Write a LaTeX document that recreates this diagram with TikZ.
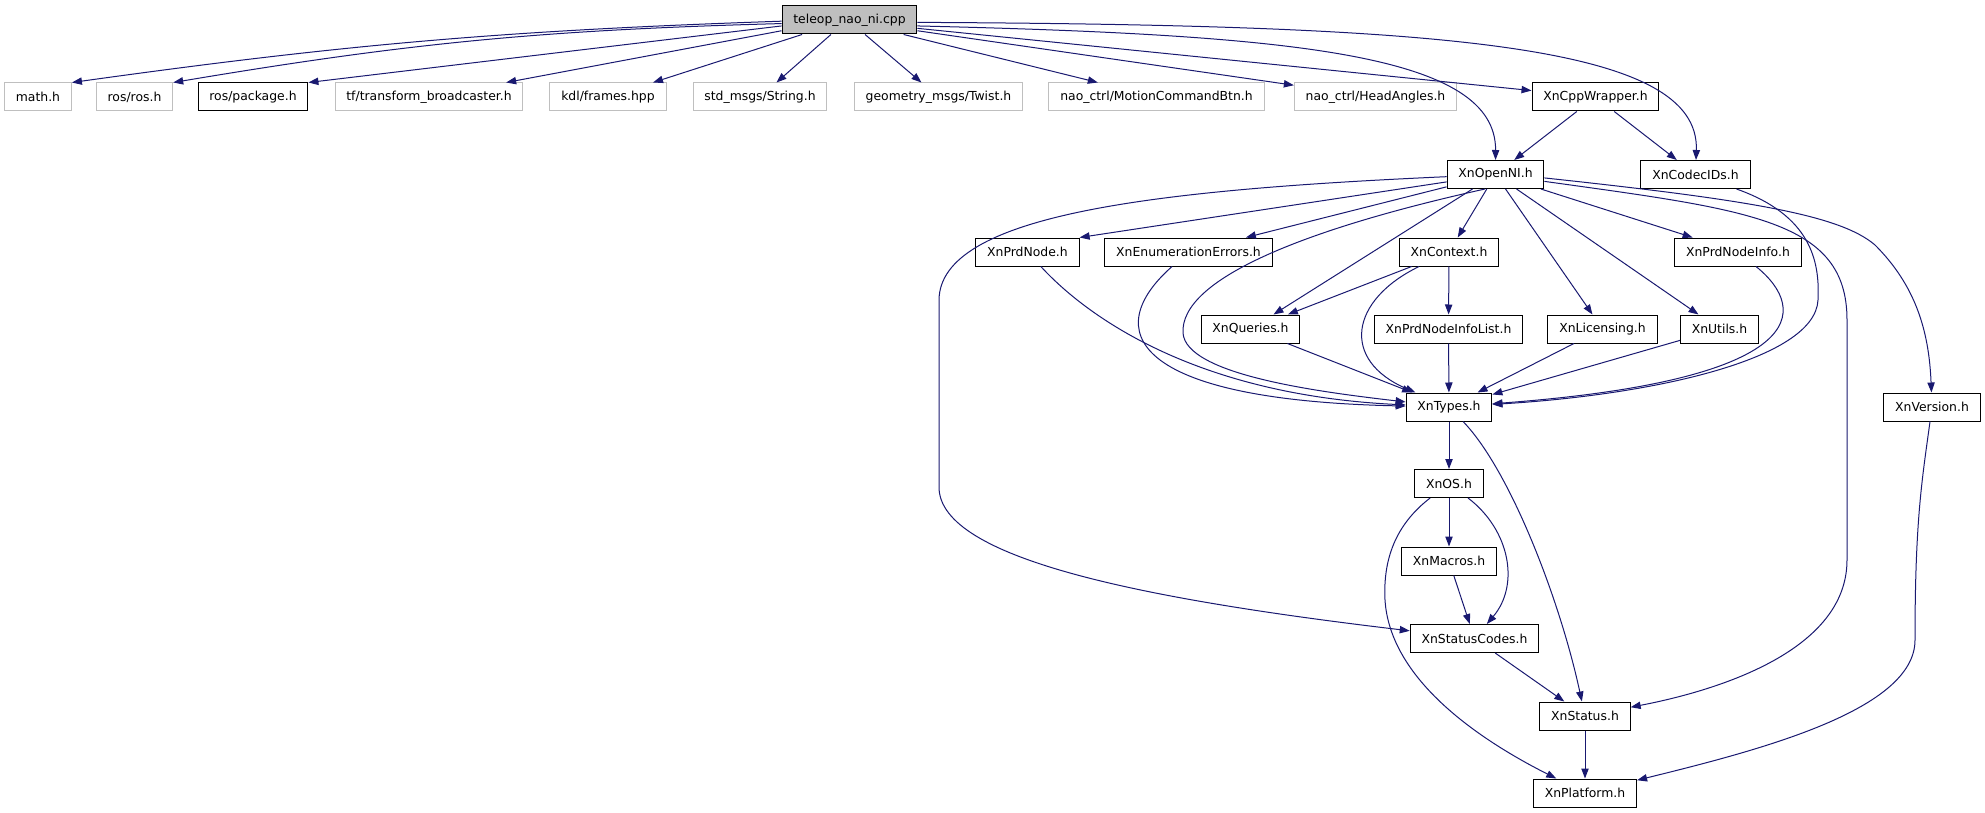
\documentclass[tikz,border=0pt]{standalone}
\usepackage{fontspec}
\setmainfont{DejaVu Sans}
\usepackage{xcolor}
\usetikzlibrary{arrows.meta}
\definecolor{edgeblue}{RGB}{25,25,112}
\definecolor{sysgray}{RGB}{191,191,191}

\begin{document}
\begin{tikzpicture}[x=0.75pt,y=-0.75pt,
  hdr/.style={draw=black,fill=white,line width=0.75pt,inner xsep=8.5pt,
              inner ysep=0pt,minimum height=21pt,
              font=\fontsize{9.3}{11}\selectfont},
  sys/.style={hdr,draw=sysgray},
  dep/.style={edgeblue,line width=0.75pt,
              -{Triangle[length=7.5pt,width=5.5pt]}}]
\useasboundingbox (0,0) rectangle (1985,813);

% ---------------- source file and first level ----------------
\node[hdr,fill=sysgray] (teleop) at (849.5,20) {teleop\_nao\_ni.cpp};
\foreach \n/\x/\t in {math/38/math.h, ros/134.5/{ros/ros.h},
    tf/429/{tf/transform\_broadcaster.h}, kdl/608/{kdl/frames.hpp},
    std/760/{std\_msgs/String.h}, geom/938.5/{geometry\_msgs/Twist.h},
    motion/1156.5/{nao\_ctrl/MotionCommandBtn.h},
    head/1375.5/{nao\_ctrl/HeadAngles.h}}{
  \node[sys] (\n) at (\x,97) {\t};
}
\node[hdr] (package) at (253,97) {ros/package.h};
\node[hdr] (cppw) at (1595.5,97) {XnCppWrapper.h};

% ---------------- OpenNI headers ----------------
\node[hdr] (openni) at (1495.5,174.5) {XnOpenNI.h};
\node[hdr] (codec) at (1695.5,174.5) {XnCodecIDs.h};
\node[hdr] (prdnode) at (1027.5,252) {XnPrdNode.h};
\node[hdr] (enumerr) at (1188.5,252) {XnEnumerationErrors.h};
\node[hdr] (context) at (1449,252) {XnContext.h};
\node[hdr] (prdinfo) at (1738,252) {XnPrdNodeInfo.h};
\node[hdr] (queries) at (1250.5,329) {XnQueries.h};
\node[hdr] (infolist) at (1448.5,329) {XnPrdNodeInfoList.h};
\node[hdr] (licensing) at (1602.5,329) {XnLicensing.h};
\node[hdr] (utils) at (1719.5,329) {XnUtils.h};
\node[hdr] (types) at (1449,407) {XnTypes.h};
\node[hdr] (version) at (1932,407) {XnVersion.h};
\node[hdr] (os) at (1449,483.5) {XnOS.h};
\node[hdr] (macros) at (1449,561) {XnMacros.h};
\node[hdr] (statuscodes) at (1474.5,638.5) {XnStatusCodes.h};
\node[hdr] (status) at (1585,716) {XnStatus.h};
\node[hdr] (platform) at (1585,793) {XnPlatform.h};

% ---------------- includes of the source file ----------------
\draw[dep] (teleop.181.6) to[bend right=3] (math.north east);
\draw[dep] (teleop.183.3) to[bend right=4] (ros.north east);
\draw[dep] (teleop.185.8) -- (package.north east);
\foreach \n/\a in {tf/189.3,kdl/197.5,std/218.7,geom/317.9,motion/345.8,
    head/351,cppw/353.4}{
  \draw[dep] (teleop.\a) -- (\n);
}
\draw[dep] (teleop.355.9) .. controls (1300,35) and (1496,55) .. (openni);
\draw[dep] (teleop.358.4) .. controls (1450,25) and (1700,45) .. (codec);
\draw[dep] (cppw) -- (openni);
\draw[dep] (cppw) -- (codec);

% ---------------- includes of XnOpenNI.h ----------------
\draw[dep] (openni) .. controls (1150,190) and (940,215) .. (939,300)
  -- (939,487) .. controls (939,560) and (1150,600) .. (statuscodes);
\draw[dep] (openni) -- (prdnode.north east);
\foreach \n in {enumerr,queries,context,licensing,utils,prdinfo}{
  \draw[dep] (openni) -- (\n);
}
\draw[dep] (openni.234) .. controls (1300,230) and (1180,280) .. (1183,333)
  .. controls (1186,375) and (1320,392) .. (types);
\draw[dep] (openni.352) .. controls (1750,210) and (1847,220) .. (1847,320)
  -- (1847,560) .. controls (1847,650) and (1720,690) .. (status);
\draw[dep] (openni.356) .. controls (1750,200) and (1840,215) .. (1875,245)
  .. controls (1915,285) and (1929,330) .. (version);

% ---------------- down to XnTypes.h ----------------
\draw[dep] (prdnode) .. controls (1090,320) and (1200,395) .. (types);
\draw[dep] (enumerr) .. controls (1100,330) and (1130,400) .. (types);
\draw[dep] (context) -- (queries);
\draw[dep] (context) -- (infolist);
\draw[dep] (context) .. controls (1350,300) and (1340,360) .. (types);
\draw[dep] (queries) -- (types);
\draw[dep] (infolist) -- (types);
\draw[dep] (licensing) -- (types);
\draw[dep] (utils) -- (types);
\draw[dep] (prdinfo) .. controls (1810,310) and (1810,380) .. (types);
\draw[dep] (codec) .. controls (1810,215) and (1820,260) .. (1818,300)
  .. controls (1815,360) and (1650,395) .. (types);

% ---------------- platform layer ----------------
\draw[dep] (types) -- (os);
\draw[dep] (types) .. controls (1510,470) and (1560,600) .. (status);
\draw[dep] (os) -- (macros);
\draw[dep] (os) .. controls (1510,530) and (1520,585) .. (statuscodes);
\draw[dep] (os) .. controls (1395,525) and (1383,560) .. (1385,600)
  .. controls (1390,680) and (1480,740) .. (platform);
\draw[dep] (macros) -- (statuscodes);
\draw[dep] (statuscodes) -- (status);
\draw[dep] (status) -- (platform);
\draw[dep] (version) .. controls (1922,480) and (1915,520) .. (1915,640)
  .. controls (1915,710) and (1760,750) .. (platform);

\end{tikzpicture}
\end{document}
